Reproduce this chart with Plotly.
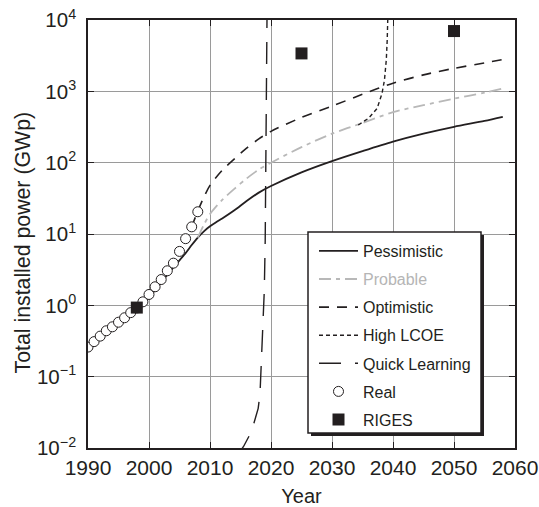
import plotly.graph_objects as go

# ---------------- data ----------------
real_years = list(range(1990, 2009))
real_values = [0.26, 0.31, 0.37, 0.44, 0.50, 0.58, 0.67, 0.79, 0.92, 1.12,
               1.42, 1.82, 2.3, 3.05, 3.9, 5.7, 8.6, 12.6, 20.5]

riges_years = [1998, 2025, 2050]
riges_values = [0.93, 3400, 7000]

pess_years = [1998, 2000, 2002, 2004, 2006, 2007, 2008, 2009, 2010, 2011, 2012, 2014,
              2016, 2018, 2020, 2025, 2030, 2035, 2040, 2045, 2050, 2055, 2058]
pess_values = [0.95, 1.3, 2.1, 3.4, 5.4, 7.0, 8.9, 10.9, 12.8, 14.6, 16.5, 21.5,
               29, 38, 47, 73, 105, 145, 197, 255, 318, 385, 440]

prob_years = [2008, 2009, 2010, 2012, 2014, 2016, 2018, 2020, 2025, 2030,
              2035, 2040, 2045, 2050, 2055, 2058]
prob_values = [8.9, 13.5, 19, 30, 43, 60, 80, 100, 165, 255,
               360, 510, 640, 790, 960, 1100]

opt_years = [2007, 2008, 2009, 2010, 2012, 2014, 2016, 2018, 2020, 2025,
             2030, 2035, 2040, 2045, 2050, 2055, 2058]
opt_values = [12.6, 21, 33, 48, 78, 113, 160, 215, 275, 430,
              620, 910, 1300, 1700, 2100, 2500, 2800]

lcoe_years = [2034.3, 2036, 2037.4, 2038.2, 2038.6, 2038.9, 2039.05, 2039.15]
lcoe_values = [337, 420, 577, 935, 1440, 2750, 5200, 11000]

quick_years = [2014.5, 2015.5, 2016.8, 2017.9, 2018.2, 2018.35, 2018.5, 2018.62,
               2018.75, 2018.9, 2019.05, 2019.15, 2019.25, 2019.35]
quick_values = [0.008, 0.0105, 0.017, 0.036, 0.058, 0.117, 0.21, 0.41,
                0.77, 1.6, 8, 60, 800, 12000]

x_ticks = [1990, 2000, 2010, 2020, 2030, 2040, 2050, 2060]
y_ticks = [0.01, 0.1, 1, 10, 100, 1000, 10000]
y_ticktext = ["10<sup>\u22122</sup>", "10<sup>\u22121</sup>", "10<sup>0</sup>",
              "10<sup>1</sup>", "10<sup>2</sup>", "10<sup>3</sup>", "10<sup>4</sup>"]

# ---------------- figure ----------------
FONT = "Liberation Sans, Arial, Helvetica, sans-serif"
INK = "#231f20"
W, H = 539, 507
L, R, T, B = 88, 24, 20, 59
PW, PH = W - L - R, H - T - B

def px2paper_x(px):
    return (px - L) / PW

def px2paper_y(py):
    return (H - B - py) / PH

fig = go.Figure()

fig.add_trace(go.Scatter(x=pess_years, y=pess_values, mode="lines", name="Pessimistic",
                         legendgroup="a",
                         line=dict(color=INK, width=1.8, shape="spline", smoothing=0.8)))
fig.add_trace(go.Scatter(x=prob_years, y=prob_values, mode="lines",
                         name='<span style="color:#b5b5b5">Probable</span>',
                         legendgroup="b",
                         line=dict(color="#b8b8b8", width=1.8, dash="12px,5px,4px,5px",
                                   shape="spline", smoothing=0.8)))
fig.add_trace(go.Scatter(x=opt_years, y=opt_values, mode="lines", name="Optimistic",
                         legendgroup="c",
                         line=dict(color=INK, width=1.6, dash="10px,8px",
                                   shape="spline", smoothing=0.8)))
fig.add_trace(go.Scatter(x=lcoe_years, y=lcoe_values, mode="lines", name="High LCOE",
                         legendgroup="d",
                         line=dict(color=INK, width=1.4, dash="4px,3px")))
fig.add_trace(go.Scatter(x=quick_years, y=quick_values, mode="lines", name="Quick Learning",
                         legendgroup="e",
                         line=dict(color=INK, width=1.4, dash="22px,14px")))
fig.add_trace(go.Scatter(x=real_years, y=real_values, mode="markers", name="Real",
                         legendgroup="f",
                         marker=dict(symbol="circle", size=10, color="white",
                                     line=dict(color=INK, width=1))))
fig.add_trace(go.Scatter(x=riges_years, y=riges_values, mode="markers", name="RIGES",
                         legendgroup="g",
                         marker=dict(symbol="square", size=12, color=INK,
                                     line=dict(color=INK, width=0))))

# legend box with shadow (drawn as shapes)
bx0, bx1, by0, by1 = 308, 481, 232, 433
sh = 3
fig.add_shape(type="rect", xref="paper", yref="paper", layer="above",
              x0=px2paper_x(bx0 + sh), x1=px2paper_x(bx1 + sh),
              y0=px2paper_y(by1 + sh), y1=px2paper_y(by0 + sh),
              fillcolor=INK, line=dict(width=0))
fig.add_shape(type="rect", xref="paper", yref="paper", layer="above",
              x0=px2paper_x(bx0), x1=px2paper_x(bx1),
              y0=px2paper_y(by1), y1=px2paper_y(by0),
              fillcolor="white", line=dict(color=INK, width=1.5))

# y-axis title as a rotated annotation (positioned like the reference)
fig.add_annotation(text="Total installed power (GWp)", xref="paper", yref="paper",
                   x=px2paper_x(23), y=px2paper_y(242.5), xanchor="center", yanchor="middle",
                   textangle=-90, showarrow=False,
                   font=dict(family=FONT, size=21.3, color=INK))

axis_common = dict(
    showline=True, linecolor=INK, linewidth=1.5, mirror="ticks",
    ticks="inside", ticklen=6, tickwidth=1.2, tickcolor=INK,
    showgrid=True, gridcolor="#9a9a9a", gridwidth=1,
    zeroline=False, automargin=False,
)

fig.update_layout(
    width=W, height=H,
    margin=dict(l=L, r=R, t=T, b=B),
    paper_bgcolor="white", plot_bgcolor="white",
    font=dict(family=FONT, color=INK),
    showlegend=True,
    legend=dict(x=px2paper_x(314), y=px2paper_y(234),
                xanchor="left", yanchor="top",
                bgcolor="rgba(0,0,0,0)", borderwidth=0,
                font=dict(family=FONT, size=16, color=INK),
                itemwidth=39,
                tracegroupgap=4.3, traceorder="grouped"),
    xaxis=dict(range=[1990, 2060], tickvals=x_ticks,
               tickfont=dict(family=FONT, size=21, color=INK),
               title=dict(text="Year", font=dict(family=FONT, size=20), standoff=12),
               **axis_common),
    yaxis=dict(type="log", range=[-2, 4], tickvals=y_ticks, ticktext=y_ticktext,
               tickfont=dict(family=FONT, size=20.5, color=INK),
               ticklabelstandoff=6,
               **axis_common),
)

fig.write_html("out.html")
